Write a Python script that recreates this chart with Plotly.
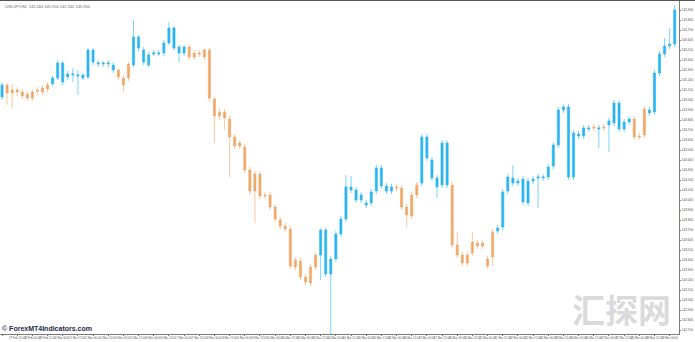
import plotly.graph_objects as go

# ---------------- data (USDJPY, H4) ----------------
bar_index = list(range(134))

# trend colour of each candle: U = blue (up), O = orange (down)
trend = list(
    "UOOOOOOOOO"
    "UUUUUUUUUU"
    "UUUOOOUUUU"
    "UUUUUUUOOO"
    "OOOOOOOOOO"
    "OOOOOOOOOO"
    "OOOUUUUUUU"
    "UUUUUUUUOO"
    "OOOUUUUUUO"
    "OOOOOOOOUU"
    "UUUUUUUUUU"
    "UUUUUUUOUO"
    "UUUUUOOOUU"
    "UUUU"
)

open_ = [
    145.03, 145.15, 145.10, 145.10, 145.08, 145.06, 145.08, 145.10, 145.12, 145.15,
    145.16, 145.22, 145.18, 145.23, 145.25, 145.24, 145.22, 145.23, 145.38, 145.36,
    145.36, 145.36, 145.30, 145.30, 145.22, 145.36, 145.35, 145.52, 145.38, 145.35,
    145.46, 145.46, 145.47, 145.57, 145.52, 145.47, 145.47, 145.53, 145.47, 145.47,
    145.50, 145.50, 145.01, 144.88, 144.88, 144.81, 144.63, 144.57, 144.53, 144.30,
    144.26, 144.26, 144.05, 144.05, 143.93, 143.80, 143.74, 143.71, 143.40, 143.39,
    143.23, 143.33, 143.45, 143.45, 143.26, 143.26, 143.41, 143.66, 143.81, 144.10,
    144.00, 144.00, 143.95, 143.97, 144.09, 144.14, 144.09, 144.09, 144.13, 144.12,
    143.93, 144.05, 144.15, 144.17, 144.42, 144.22, 144.13, 144.15, 144.15, 144.15,
    143.55, 143.45, 143.45, 143.58, 143.57, 143.57, 143.41, 143.68, 143.69, 143.73,
    144.09, 144.17, 144.17, 143.98, 143.97, 144.19, 144.22, 144.22, 144.23, 144.34,
    144.55, 144.90, 144.23, 144.23, 144.64, 144.64, 144.71, 144.73, 144.71, 144.73,
    144.75, 144.77, 144.71, 144.71, 144.78, 144.81, 144.64, 144.91, 144.87, 144.88,
    145.27, 145.46, 145.54, 145.56,
]
high = [
    145.18, 145.17, 145.16, 145.13, 145.11, 145.08, 145.11, 145.13, 145.15, 145.18,
    145.24, 145.40, 145.39, 145.29, 145.32, 145.30, 145.27, 145.52, 145.52, 145.40,
    145.39, 145.40, 145.38, 145.32, 145.25, 145.38, 145.80, 145.65, 145.53, 145.48,
    145.50, 145.50, 145.60, 145.78, 145.74, 145.55, 145.55, 145.55, 145.50, 145.50,
    145.52, 145.52, 145.03, 144.92, 144.91, 144.84, 144.66, 144.60, 144.56, 144.33,
    144.29, 144.29, 144.08, 144.08, 143.96, 143.83, 143.77, 143.74, 143.43, 143.42,
    143.26, 143.36, 143.48, 143.72, 143.72, 143.44, 143.69, 143.84, 144.25, 144.24,
    144.13, 144.08, 144.00, 144.11, 144.35, 144.35, 144.17, 144.16, 144.16, 144.15,
    143.96, 144.08, 144.18, 144.66, 144.66, 144.43, 144.25, 144.60, 144.60, 144.18,
    143.68, 143.48, 143.48, 143.68, 143.60, 143.60, 143.44, 143.71, 143.75, 144.11,
    144.26, 144.35, 144.22, 144.24, 144.22, 144.24, 144.26, 144.26, 144.36, 144.58,
    144.93, 144.96, 144.96, 144.70, 144.69, 144.75, 144.75, 144.76, 144.75, 144.76,
    144.82, 145.00, 145.00, 144.81, 144.84, 144.84, 144.67, 144.94, 144.93, 145.30,
    145.49, 145.62, 145.72, 145.95,
]
low = [
    145.00, 144.95, 144.92, 145.04, 145.01, 144.99, 144.99, 145.05, 145.05, 145.08,
    145.14, 145.20, 145.15, 145.20, 145.18, 145.05, 145.20, 145.21, 145.35, 145.33,
    145.33, 145.32, 145.27, 145.20, 145.08, 145.19, 145.33, 145.48, 145.35, 145.33,
    145.44, 145.44, 145.44, 145.55, 145.50, 145.38, 145.44, 145.40, 145.40, 145.43,
    145.40, 144.98, 144.57, 144.80, 144.70, 144.23, 144.50, 144.51, 144.27, 144.05,
    143.77, 144.01, 144.01, 143.90, 143.78, 143.71, 143.68, 143.31, 143.30, 143.20,
    143.15, 143.14, 143.30, 143.20, 143.23, 142.65, 143.38, 143.63, 143.78, 144.07,
    143.97, 143.97, 143.92, 143.94, 144.06, 144.11, 144.06, 144.06, 144.09, 143.90,
    143.73, 143.81, 144.02, 144.14, 144.39, 144.19, 144.02, 144.12, 144.12, 143.52,
    143.42, 143.34, 143.34, 143.44, 143.51, 143.51, 143.31, 143.34, 143.66, 143.70,
    144.06, 144.14, 144.14, 143.95, 143.94, 144.16, 143.92, 144.19, 144.20, 144.31,
    144.52, 144.87, 144.20, 144.20, 144.61, 144.61, 144.68, 144.69, 144.52, 144.69,
    144.48, 144.74, 144.68, 144.68, 144.75, 144.60, 144.60, 144.62, 144.84, 144.85,
    145.24, 145.43, 145.51, 145.53,
]
close = [
    145.15, 145.07, 145.07, 145.08, 145.04, 145.02, 145.02, 145.09, 145.08, 145.11,
    145.22, 145.37, 145.37, 145.26, 145.26, 145.25, 145.25, 145.50, 145.50, 145.37,
    145.37, 145.37, 145.35, 145.23, 145.15, 145.22, 145.63, 145.63, 145.50, 145.45,
    145.47, 145.47, 145.57, 145.72, 145.72, 145.53, 145.53, 145.43, 145.43, 145.46,
    145.43, 145.02, 144.84, 144.84, 144.82, 144.63, 144.54, 144.54, 144.30, 144.09,
    144.09, 144.04, 144.04, 143.93, 143.81, 143.74, 143.71, 143.34, 143.33, 143.23,
    143.18, 143.17, 143.33, 143.70, 143.70, 143.41, 143.66, 143.81, 144.13, 144.13,
    144.10, 144.05, 143.97, 144.08, 144.32, 144.32, 144.14, 144.13, 144.12, 143.93,
    143.85, 143.84, 144.05, 144.63, 144.63, 144.40, 144.22, 144.57, 144.57, 143.55,
    143.45, 143.37, 143.37, 143.47, 143.54, 143.54, 143.34, 143.43, 143.72, 144.08,
    144.23, 144.22, 144.19, 144.21, 144.19, 144.21, 144.23, 144.23, 144.33, 144.55,
    144.90, 144.93, 144.93, 144.67, 144.66, 144.72, 144.72, 144.72, 144.72, 144.72,
    144.79, 144.97, 144.97, 144.78, 144.81, 144.63, 144.63, 144.65, 144.90, 145.27,
    145.46, 145.54, 145.56, 145.90,
]

tick_bars = list(range(0, 134, 3))
tick_labels = [
    "27 Feb 2023", "27 Feb 12:00", "28 Feb 00:00", "28 Feb 12:00", "1 Mar 00:00",
    "1 Mar 12:00", "2 Mar 00:00", "2 Mar 12:00", "3 Mar 00:00", "3 Mar 12:00",
    "6 Mar 00:00", "6 Mar 12:00", "7 Mar 00:00", "7 Mar 12:00", "8 Mar 00:00",
    "8 Mar 12:00", "9 Mar 00:00", "9 Mar 12:00", "10 Mar 00:00", "10 Mar 12:00",
    "13 Mar 00:00", "13 Mar 12:00", "14 Mar 00:00", "14 Mar 12:00", "15 Mar 00:00",
    "15 Mar 12:00", "16 Mar 00:00", "16 Mar 12:00", "17 Mar 00:00", "17 Mar 12:00",
    "20 Mar 00:00", "20 Mar 12:00", "21 Mar 00:00", "21 Mar 12:00", "22 Mar 00:00",
    "22 Mar 12:00", "23 Mar 00:00", "23 Mar 12:00", "24 Mar 00:00", "24 Mar 12:00",
    "27 Mar 00:00", "27 Mar 12:00", "28 Mar 00:00", "28 Mar 12:00", "29 Mar 00:00",
]

header_text = "USDJPY,H4  145.560 145.950 145.530 145.900"
site_mark = "© ForexMT4Indicators.com"
stamp_mark = "汇探网"

# ---------------- figure ----------------
BLUE = "#1FB2F2"
ORANGE = "#F0A462"

fig = go.Figure()
for code, col in (("U", BLUE), ("O", ORANGE)):
    idx = [i for i, t in enumerate(trend) if t == code]
    fig.add_trace(go.Candlestick(
        x=[bar_index[i] for i in idx],
        open=[open_[i] for i in idx],
        high=[high[i] for i in idx],
        low=[low[i] for i in idx],
        close=[close[i] for i in idx],
        increasing=dict(line=dict(color=col, width=0.6), fillcolor=col),
        decreasing=dict(line=dict(color=col, width=0.6), fillcolor=col),
        whiskerwidth=0,
        opacity=0.95,
        showlegend=False,
        hoverinfo="skip",
    ))

fig.update_layout(
    width=695, height=342,
    margin=dict(l=0, r=16, t=1, b=8),
    paper_bgcolor="white", plot_bgcolor="white",
    boxgap=0.4,
    xaxis=dict(
        range=[-0.4, 133.85],
        rangeslider=dict(visible=False),
        showgrid=False, zeroline=False,
        showline=True, linecolor="#7a7a7a", linewidth=1,
        ticks="outside", ticklen=1, tickcolor="#7a7a7a",
        tickvals=tick_bars, ticktext=tick_labels, tickangle=0,
        tickfont=dict(family="Liberation Sans Narrow, Liberation Sans", size=2.8, color="#555555"),
        automargin=False,
    ),
    yaxis=dict(
        side="right",
        range=[142.66, 145.99],
        dtick=0.1, tick0=0, tickformat=".3f",
        showgrid=False, zeroline=False,
        showline=True, linecolor="#7a7a7a", linewidth=1,
        ticks="outside", ticklen=1, tickcolor="#7a7a7a",
        tickfont=dict(family="Liberation Sans", size=3.2, color="#555555"),
        automargin=False,
    ),
    shapes=[dict(type="line", xref="paper", yref="paper",
                 x0=0, x1=1.03, y0=1.0015, y1=1.0015,
                 line=dict(color="#555555", width=1))],
    annotations=[
        dict(text=header_text, xref="paper", yref="paper", x=0.004, y=0.997,
             xanchor="left", yanchor="top", showarrow=False,
             font=dict(family="Liberation Sans", size=4, color="#666666")),
        dict(text="<b>" + site_mark + "</b>", xref="paper", yref="paper",
             x=0.0, y=0.0, xanchor="left", yanchor="bottom", showarrow=False,
             font=dict(family="Liberation Sans", size=7, color="#1c2b4d")),
        dict(text="<b>" + stamp_mark + "</b>", xref="paper", yref="paper",
             x=0.915, y=0.075, xanchor="center", yanchor="middle", showarrow=False,
             font=dict(family="Noto Sans CJK SC", size=33, color="rgba(150,150,150,0.35)")),
    ],
)

fig.write_html("out.html")
